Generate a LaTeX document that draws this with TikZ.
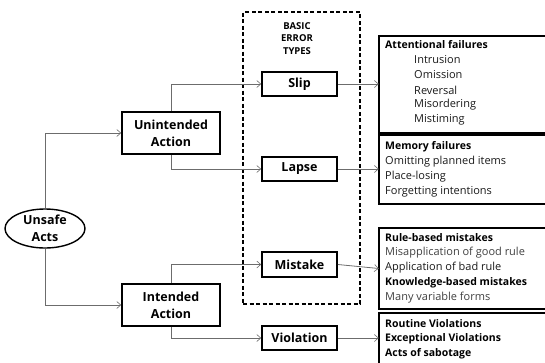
\documentclass[tikz,border=0pt]{standalone}
\usepackage{fontspec}
\setmainfont{Open Sans}
\usetikzlibrary{shapes.geometric,arrows.meta}
\tikzset{
  box/.style={draw=black,line width=1.6pt,rectangle,inner sep=0pt,font=\bfseries\fontsize{12.5}{17}\selectfont,align=center},
  infobox/.style={rectangle,inner sep=0pt},
  infoline/.style={draw=black,line width=1.6pt},
  conn/.style={draw=gray!85!black,line width=0.8pt,-{Straight Barb[length=4pt,width=7pt,line width=0.6pt]}},
  hd/.style={anchor=west,inner sep=0pt,font=\bfseries\fontsize{10.5}{13}\selectfont},
  it/.style={anchor=west,inner sep=0pt,font=\fontsize{11}{13}\selectfont,text=black!90},
  itb/.style={anchor=west,inner sep=0pt,font=\fontsize{11}{13}\selectfont,text=black!75},
}
\begin{document}
\begin{tikzpicture}[x=1pt,y=-1pt]
\useasboundingbox (0,0) rectangle (545,362);
% dashed group
\node[draw=black,line width=1.3pt,dashed,dash pattern=on 4pt off 2.5pt,minimum width=117pt,minimum height=292pt,inner sep=0pt] (grp) at (301.5,158) {};
\node[inner sep=0pt,align=center,font=\bfseries\fontsize{9.5}{12.5}\selectfont] (bet) at (297,38.5) {BASIC\\ERROR\\TYPES};
% nodes
\node[draw=black,line width=1.4pt,ellipse,minimum width=80pt,minimum height=39pt,inner sep=0pt,align=center,font=\bfseries\fontsize{12.5}{17}\selectfont] (us) at (45,228.5) {Unsafe\\Acts};
\node[box,minimum width=98pt,minimum height=42pt] (ua) at (171,133) {Unintended\\Action};
\node[box,minimum width=98pt,minimum height=42pt] (ia) at (171,305) {Intended\\Action};
\node[box,minimum width=75pt,minimum height=24pt] (slip) at (299.5,84) {Slip};
\node[box,minimum width=75pt,minimum height=24pt] (lapse) at (299.5,169) {Lapse};
\node[box,minimum width=75pt,minimum height=25pt] (mistake) at (299.5,264.5) {Mistake};
\node[box,minimum width=75pt,minimum height=24pt] (viol) at (299.5,338) {Violation};
% info boxes (open to the right, cut by the picture edge)
\node[infobox,minimum width=166pt,minimum height=97pt] (att) at (462,84.5) {};
\node[infobox,minimum width=166pt,minimum height=69pt] (mem) at (462,169.5) {};
\node[infobox,minimum width=166pt,minimum height=81pt] (rule) at (462,268.5) {};
\node[infobox,minimum width=166pt,minimum height=57pt] (rout) at (462,341.5) {};
\foreach \b in {att,mem,rule,rout}
  \draw[infoline] (\b.north east) -- (\b.north west) -- (\b.south west) -- (\b.south east);
% texts
\node[hd] (a0) at (385,45) {Attentional failures};
\node[it] (a1) at (414,60) {Intrusion};
\node[it] (a2) at (414,75) {Omission};
\node[it] (a3) at (414,90) {Reversal};
\node[it] (a4) at (414,105) {Misordering};
\node[it] (a5) at (414,120) {Mistiming};
\node[hd] (m0) at (385,147) {Memory failures};
\node[it] (m1) at (385,162) {Omitting planned items};
\node[it] (m2) at (385,177) {Place-losing};
\node[it] (m3) at (385,192) {Forgetting intentions};
\node[hd] (r0) at (385,238) {Rule-based mistakes};
\node[itb] (r1) at (385,253) {Misapplication of good rule};
\node[it] (r2) at (385,268) {Application of bad rule};
\node[hd] (r3) at (385,283) {Knowledge-based mistakes};
\node[itb] (r4) at (385,298) {Many variable forms};
\node[hd] (v0) at (385,324) {Routine Violations};
\node[hd] (v1) at (385,339) {Exceptional Violations};
\node[hd] (v2) at (385,354) {Acts of sabotage};
% connectors
\draw[conn] (us.north) |- (ua.west);
\draw[conn] (us.south) |- (ia.west);
\draw[conn] (ua.north) |- (slip.west);
\draw[conn] (ua.south) |- (lapse.west);
\draw[conn] (ia.north) |- (mistake.west);
\draw[conn] (ia.south) |- (viol.west);
\draw[conn] (slip.east) -- (slip.east -| att.west);
\draw[conn] (lapse.east) -- (lapse.east -| mem.west);
\draw[conn] (mistake.east) -- (rule.west);
\draw[conn] (viol.east) -- (viol.east -| rout.west);
\end{tikzpicture}
\end{document}
